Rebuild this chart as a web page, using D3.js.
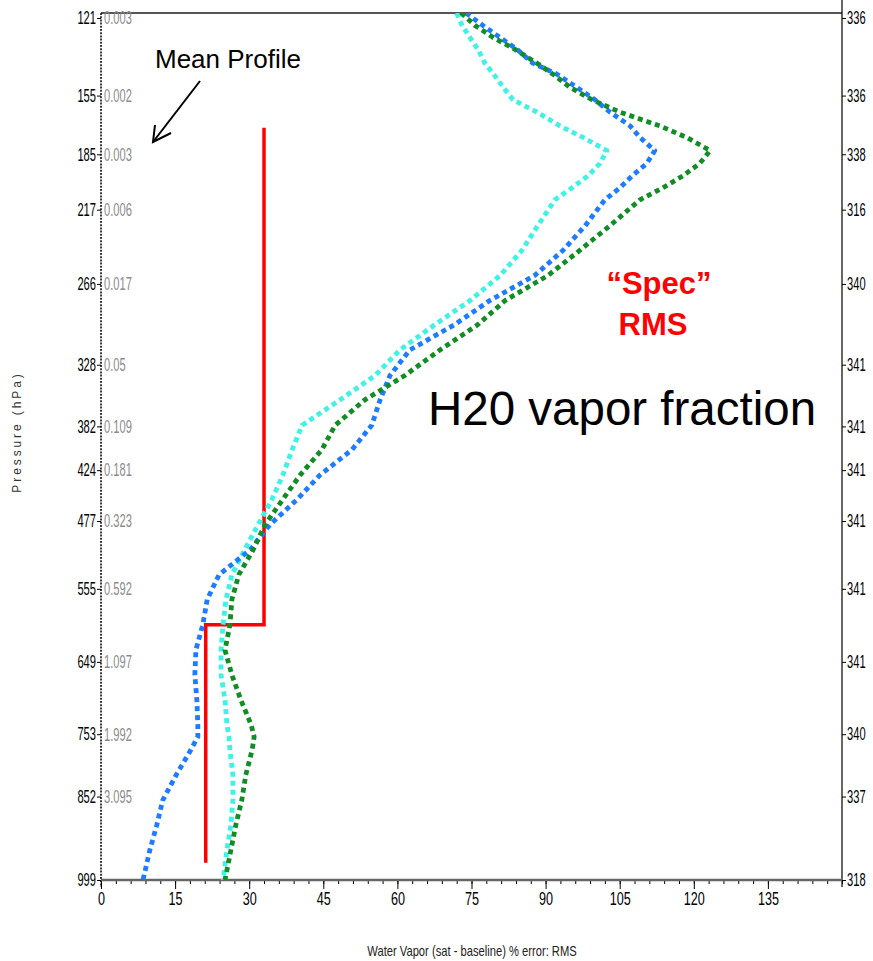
<!DOCTYPE html>
<html>
<head>
<meta charset="utf-8">
<script src="https://cdn.jsdelivr.net/npm/d3@7"></script>
<style>
  body { margin: 0; background: #fff; }
</style>
</head>
<body>
<svg id="chart" width="873" height="961"></svg>
<script>
// Pressure (hPa) of each profile point, top of the plot to the surface
const pressureLevels = [119, 124, 129, 134, 140, 145, 151, 157, 163, 170, 176, 183, 190, 197, 204, 211,
  227, 243, 260, 278, 296, 316, 337, 358, 381, 404, 429, 454, 481, 509, 538, 568, 600, 633, 667, 702,
  739, 757, 777, 817, 858, 900, 944, 999];

// RMS % error of water vapour for the three retrievals
const seriesCyan = [72.0, 73.1, 74.7, 76.3, 77.7, 79.5, 81.4, 83.4, 88.2, 92.9, 97.6, 102.4, 101.0, 98.6, 95.3, 91.9,
  88.4, 85.2, 80.8, 74.7, 67.6, 60.5, 55.5, 48.4, 40.7, 38.7, 36.8, 34.6, 31.8, 29.1, 26.5, 25.3, 24.7, 24.3, 24.3, 25.1,
  25.5, 25.9, 26.1, 26.7, 26.7, 26.3, 25.5, 24.7];
const seriesBlue = [73.9, 77.3, 80.8, 84.2, 87.4, 92.3, 96.2, 100.0, 103.0, 107.1, 109.1, 112.1, 110.5, 107.5, 105.0, 102.0,
  98.0, 93.5, 87.8, 78.7, 71.6, 62.5, 58.5, 56.5, 54.8, 50.8, 44.3, 39.7, 34.2, 30.2, 23.9, 21.5, 20.6, 19.2, 19.0, 19.4,
  19.6, 19.6, 18.2, 15.2, 12.5, 11.3, 9.9, 8.5];
const seriesGreen = [72.9, 75.7, 79.4, 83.8, 88.2, 91.5, 94.9, 99.4, 105.0, 113.1, 118.6, 123.3, 121.2, 117.8, 113.7, 109.1,
  103.0, 96.9, 90.5, 81.8, 76.3, 68.6, 61.5, 53.4, 47.4, 44.7, 40.3, 36.8, 33.2, 30.8, 27.9, 26.5, 26.1, 25.1, 26.5, 28.3,
  30.4, 31.0, 30.6, 29.3, 28.5, 27.3, 26.3, 25.1];

// Labelled pressure levels, mean water vapour profile and right-hand counts
const axisLevels = [121, 155, 185, 217, 266, 328, 382, 424, 477, 555, 649, 753, 852, 999];
const meanProfileLabels = ["0.003", "0.002", "0.003", "0.006", "0.017", "0.05", "0.109", "0.181", "0.323",
  "0.592", "1.097", "1.992", "3.095", ""];
const rightLabels = ["336", "336", "338", "316", "340", "341", "341", "341", "341", "341", "341", "340", "337", "318"];

// x axis ticks
const xTicks = [0, 15, 30, 45, 60, 75, 90, 105, 120, 135];
const xMinorStep = 3;
const xMax = 150;

// "Spec" RMS requirement as a step profile
const specPressure = [171, 600, 600, 967];
const specValue = [33, 33, 21.2, 21.2];

(function draw() {
  const svg = d3.select("#chart");
  const W = 873, H = 961;
  const mLeft = 101, mRight = 842, mTop = 13, mBottom = 880;
  const sans = '"Liberation Sans", Arial, Helvetica, sans-serif';
  const squeezeY = 0.62, squeezeX = 0.7;   // condensed axis lettering

  const x = d3.scaleLinear().domain([0, xMax]).range([mLeft, mRight]);
  const y = d3.scalePow().exponent(0.27).domain([121, 999]).range([18, mBottom]);

  svg.append("rect").attr("width", W).attr("height", H).attr("fill", "#fff");

  svg.append("defs").append("clipPath").attr("id", "plotClip")
    .append("rect").attr("x", mLeft).attr("y", mTop).attr("width", mRight - mLeft).attr("height", mBottom - mTop);

  // top border
  svg.append("line").attr("x1", mLeft).attr("x2", mRight).attr("y1", mTop).attr("y2", mTop)
    .attr("stroke", "#555").attr("stroke-width", 2);

  // left axis (dotted spine)
  svg.append("line").attr("x1", mLeft).attr("x2", mLeft).attr("y1", mTop).attr("y2", mBottom + 7)
    .attr("stroke", "#000").attr("stroke-width", 1.5).attr("stroke-dasharray", "2,1.2");

  const yLeft = svg.append("g").attr("transform", `translate(${mLeft},0)`)
    .call(d3.axisLeft(y).tickValues(axisLevels).tickSize(4).tickSizeOuter(0));
  yLeft.select(".domain").remove();
  yLeft.selectAll("text").attr("font-family", sans).attr("font-size", 18).attr("fill", "#000")
    .attr("x", -5 / squeezeY).attr("transform", `scale(${squeezeY},1)`);

  // mean profile values inside the plot
  svg.append("g").selectAll("text").data(axisLevels).join("text")
    .attr("transform", d => `translate(${mLeft + 3},${y(d)}) scale(${squeezeY},1)`)
    .attr("dy", "0.35em")
    .attr("font-family", sans).attr("font-size", 18).attr("fill", "#8c8c8c")
    .text((d, i) => meanProfileLabels[i]);

  // right axis
  svg.append("line").attr("x1", mRight).attr("x2", mRight).attr("y1", 0).attr("y2", mBottom + 7)
    .attr("stroke", "#000").attr("stroke-width", 1.2);
  const yRight = svg.append("g").attr("transform", `translate(${mRight},0)`)
    .call(d3.axisRight(y).tickValues(axisLevels).tickSize(4).tickSizeOuter(0)
      .tickFormat((d, i) => rightLabels[i]));
  yRight.select(".domain").remove();
  yRight.selectAll("text").attr("font-family", sans).attr("font-size", 18).attr("fill", "#000")
    .attr("x", 5 / squeezeY).attr("transform", `scale(${squeezeY},1)`);

  // bottom axis with minor ticks
  const xMinor = svg.append("g").attr("transform", `translate(0,${mBottom})`)
    .call(d3.axisBottom(x).tickValues(d3.range(0, xMax + 0.1, xMinorStep)).tickSize(4).tickFormat(""));
  xMinor.select(".domain").remove();
  const xAxis = svg.append("g").attr("transform", `translate(0,${mBottom})`)
    .call(d3.axisBottom(x).tickValues(xTicks).tickSize(9).tickSizeOuter(0));
  xAxis.select(".domain").remove();
  xAxis.selectAll("text").attr("font-family", sans).attr("font-size", 18).attr("fill", "#000")
    .attr("transform", `scale(${squeezeX},1)`);
  svg.append("line").attr("x1", mLeft).attr("x2", mRight).attr("y1", mBottom).attr("y2", mBottom)
    .attr("stroke", "#666").attr("stroke-width", 2.5);

  // axis titles
  svg.append("text").attr("transform", "translate(472,956) scale(0.8,1)").attr("text-anchor", "middle")
    .attr("font-family", sans).attr("font-size", 14).attr("fill", "#222")
    .text("Water Vapor (sat - baseline) % error: RMS");
  svg.append("text").attr("transform", "translate(21,432) rotate(-90)").attr("text-anchor", "middle")
    .attr("font-family", sans).attr("font-size", 12).attr("letter-spacing", 2.9).attr("fill", "#333")
    .text("Pressure (hPa)");

  // data
  const plot = svg.append("g").attr("clip-path", "url(#plotClip)");

  const spec = specPressure.map((p, i) => ({ p, v: specValue[i] }));
  plot.append("path").datum(spec)
    .attr("d", d3.line().x(d => x(d.v)).y(d => y(d.p)))
    .attr("fill", "none").attr("stroke", "#ff0000").attr("stroke-width", 3.5);

  const series = [
    { name: "cyan", values: seriesCyan, color: "#3ef3e6" },
    { name: "blue", values: seriesBlue, color: "#1f7bff" },
    { name: "green", values: seriesGreen, color: "#128c24" }
  ];
  const line = d3.line().x(d => x(d.v)).y(d => y(d.p));
  plot.selectAll("path.profile").data(series).join("path")
    .attr("class", "profile")
    .attr("d", s => line(pressureLevels.map((p, i) => ({ p, v: s.values[i] }))))
    .attr("fill", "none").attr("stroke", s => s.color)
    .attr("stroke-width", 4.8).attr("stroke-dasharray", "5,4").attr("stroke-linejoin", "round");

  // annotations
  svg.append("text").attr("x", 155).attr("y", 68).attr("font-family", sans).attr("font-size", 26)
    .attr("fill", "#000").text("Mean Profile");
  const tip = [153, 142];
  svg.append("path").attr("d", `M200,81 L${tip[0]},${tip[1]}`)
    .attr("stroke", "#000").attr("stroke-width", 2).attr("fill", "none");
  svg.append("path").attr("d", `M${tip[0] + 2},${tip[1] - 17} L${tip[0]},${tip[1]} L${tip[0] + 18},${tip[1] - 9}`)
    .attr("stroke", "#000").attr("stroke-width", 2).attr("fill", "none");

  svg.append("text").attr("x", 659).attr("y", 294).attr("text-anchor", "middle")
    .attr("font-family", sans).attr("font-weight", "bold").attr("font-size", 31).attr("fill", "#ff0000")
    .text("\u201CSpec\u201D");
  svg.append("text").attr("x", 653).attr("y", 335).attr("text-anchor", "middle")
    .attr("font-family", sans).attr("font-weight", "bold").attr("font-size", 31).attr("fill", "#ff0000")
    .text("RMS");

  svg.append("text").attr("x", 428).attr("y", 425).attr("font-family", sans).attr("font-size", 47.5)
    .attr("fill", "#000").text("H20 vapor fraction");
})();
</script>
</body>
</html>
